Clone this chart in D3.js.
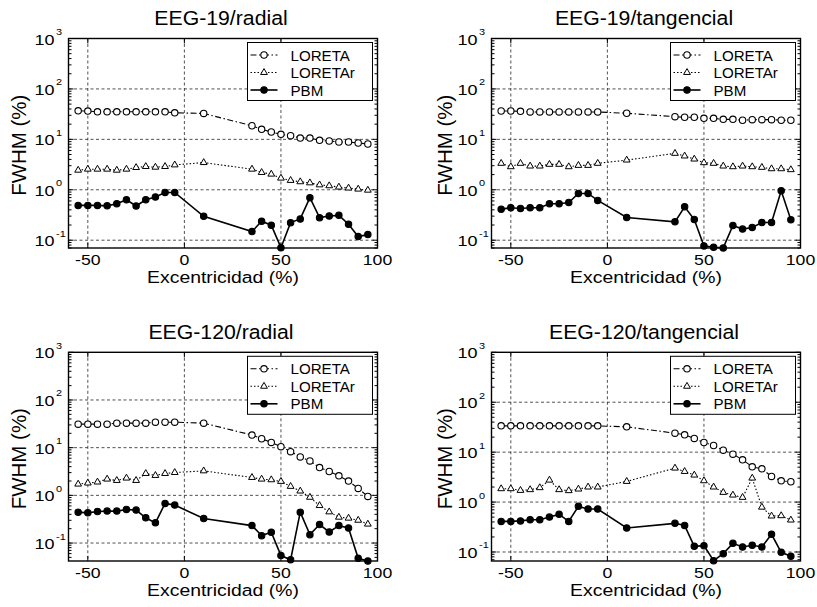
<!DOCTYPE html>
<html><head><meta charset="utf-8">
<script src="https://cdn.jsdelivr.net/npm/d3@7"></script>
<style>
body{margin:0;background:#fff}
svg{display:block}
text{font-family:"Liberation Sans",Arial,Helvetica,sans-serif;fill:#000}
</style>
</head><body>
<svg id="fig" width="817" height="607"></svg>
<script>
// Source eccentricities (%) where FWHM was evaluated
const excentricidad = [-55,-50,-45,-40,-35,-30,-25,-20,-15,-10,-5,10,35,40,45,50,55,60,65,70,75,80,85,90,95];
const xTicks = [-50, 0, 50, 100];
const yTickExps = [-1, 0, 1, 2, 3];
const seriesNames = ["LORETA", "LORETAr", "PBM"];
const panelTitles = ["EEG-19/radial", "EEG-19/tangencial", "EEG-120/radial", "EEG-120/tangencial"];
const yFloor = [0.07, 0.07, 0.042, 0.066];

// EEG-19, radial dipoles
const loreta19rad  = [36.8,36.3,35.2,35.2,35.2,35.2,35.2,35.2,35.2,35.2,33.6,32.6,18.6,15.8,14.0,12.6,11.8,10.6,10.6,9.55,9.27,8.86,8.86,8.47,8.09];
const loretaR19rad = [2.44,2.56,2.56,2.56,2.44,2.56,2.76,2.89,2.80,2.89,3.11,3.46,2.56,2.20,2.04,1.70,1.53,1.44,1.37,1.25,1.20,1.13,1.08,1.03,0.98];
const pbm19rad     = [0.49,0.49,0.49,0.48,0.53,0.635,0.476,0.635,0.72,0.885,0.885,0.298,0.148,0.237,0.198,0.071,0.223,0.264,0.695,0.28,0.302,0.311,0.207,0.118,0.129];

// EEG-19, tangential dipoles
const loreta19tan  = [36.5,36.5,36.0,34.9,34.9,34.9,34.9,34.9,34.9,34.9,34.9,32.9,28.2,27.4,27.4,26.1,26.1,24.9,24.9,23.9,24.6,24.6,24.6,23.9,23.9];
const loretaR19tan = [3.34,2.86,3.34,2.95,2.95,3.19,3.19,2.86,3.04,3.04,3.34,3.88,5.27,4.67,4.06,3.44,3.34,2.95,2.86,2.95,2.86,2.78,2.61,2.61,2.50];
const pbm19tan     = [0.413,0.439,0.426,0.439,0.439,0.527,0.527,0.56,0.846,0.846,0.614,0.282,0.231,0.459,0.257,0.077,0.0726,0.0704,0.196,0.166,0.179,0.224,0.224,0.955,0.253];

// EEG-120, radial dipoles
const loreta120rad  = [31.1,31.1,31.1,31.1,32.7,32.7,32.7,32.7,34.2,34.2,34.2,32.7,18.4,15.4,12.9,10.5,8.26,6.39,5.27,3.83,3.16,2.57,1.99,1.40,0.95];
const loretaR120rad = [1.72,1.81,1.90,2.19,2.05,2.30,2.05,2.87,2.61,2.87,3.01,3.26,2.37,2.19,2.12,1.96,1.54,1.23,0.91,0.61,0.45,0.348,0.332,0.30,0.249];
const pbm120rad     = [0.444,0.43,0.459,0.467,0.467,0.506,0.49,0.339,0.265,0.678,0.624,0.327,0.232,0.143,0.168,0.0547,0.0444,0.444,0.15,0.244,0.171,0.232,0.207,0.048,0.042];

// EEG-120, tangential dipoles
const loreta120tan  = [33.6,33.6,33.6,33.6,33.6,33.6,33.6,33.6,33.6,33.6,33.6,32.1,24.0,22.2,18.8,15.6,13.6,10.96,9.12,7.03,5.09,4.64,3.26,2.67,2.55];
const loretaR120tan = [1.85,1.85,1.71,1.77,1.94,2.75,1.77,1.69,1.82,2.0,2.0,2.59,4.79,4.10,3.47,2.67,2.0,1.56,1.38,1.24,3.02,0.79,0.525,0.533,0.436];
const pbm120tan     = [0.41,0.41,0.42,0.443,0.443,0.50,0.567,0.41,0.82,0.724,0.724,0.302,0.375,0.341,0.13,0.134,0.067,0.0926,0.149,0.126,0.136,0.126,0.226,0.0985,0.082];

const panelSeries = [
  [loreta19rad, loretaR19rad, pbm19rad],
  [loreta19tan, loretaR19tan, pbm19tan],
  [loreta120rad, loretaR120rad, pbm120rad],
  [loreta120tan, loretaR120tan, pbm120tan]
];

// Plot-area frames for the 2x2 grid (yLab: offset of the y-axis title)
const frames = [
  {x0: 68.5,  x1: 377.5, y0: 38.5,  y1: 248, yLab: -43},
  {x0: 491.5, x1: 800.5, y0: 38.5,  y1: 248, yLab: -39.5},
  {x0: 68.5,  x1: 377.5, y0: 352.3, y1: 561, yLab: -43},
  {x0: 491.5, x1: 800.5, y0: 352.3, y1: 561, yLab: -39.5}
];

// Line / marker styles per method
const styles = [
  {dash: "6,2.5,1.5,2.5", width: 1.1, marker: "circle",   fill: "#fff"},
  {dash: "1.5,2",         width: 1.1, marker: "triangle", fill: "#fff"},
  {dash: null,            width: 1.6, marker: "circle",   fill: "#000"}
];

const svg = d3.select("#fig");

// Text with a slight horizontal stretch (wide Helvetica-like lettering)
function label(g, x, y, str, size, anchor, sx, rot) {
  return g.append("text")
    .attr("transform", `translate(${x},${y})` + (rot ? ` rotate(${rot})` : "") + ` scale(${sx},1)`)
    .attr("text-anchor", anchor).attr("font-size", size).text(str);
}

function drawMarker(g, kind, fill, cx, cy) {
  if (kind === "circle") {
    g.append("circle").attr("cx", cx).attr("cy", cy).attr("r", 3.2)
      .attr("fill", fill).attr("stroke", "#000").attr("stroke-width", 1.1);
  } else {
    g.append("path").attr("d", d3.symbol(d3.symbolTriangle, 20)())
      .attr("transform", `translate(${cx},${cy})`)
      .attr("fill", fill).attr("stroke", "#000").attr("stroke-width", 1);
  }
}

frames.forEach((f, pi) => {
  const g = svg.append("g");
  const x = d3.scaleLinear().domain([-60, 100]).range([f.x0, f.x1]);
  const y = d3.scaleLog().domain([yFloor[pi], 1000]).range([f.y1, f.y0]);

  // dashed grid
  const grid = g.append("g").attr("stroke", "#000").attr("stroke-width", 0.8)
    .attr("stroke-dasharray", "3,2.5").attr("opacity", 0.85);
  xTicks.filter(v => v < 100).forEach(v => {
    grid.append("line").attr("x1", x(v)).attr("x2", x(v)).attr("y1", f.y0).attr("y2", f.y1);
  });
  yTickExps.filter(e => e < 3).forEach(e => {
    grid.append("line").attr("x1", f.x0).attr("x2", f.x1).attr("y1", y(10 ** e)).attr("y2", y(10 ** e));
  });

  // axis frame
  g.append("rect").attr("x", f.x0).attr("y", f.y0)
    .attr("width", f.x1 - f.x0).attr("height", f.y1 - f.y0)
    .attr("fill", "none").attr("stroke", "#000").attr("stroke-width", 1.4);

  // inward ticks
  const tk = g.append("g").attr("stroke", "#000").attr("stroke-width", 1);
  xTicks.filter(v => v < 100).forEach(v => {
    tk.append("line").attr("x1", x(v)).attr("x2", x(v)).attr("y1", f.y1).attr("y2", f.y1 - 5);
    tk.append("line").attr("x1", x(v)).attr("x2", x(v)).attr("y1", f.y0).attr("y2", f.y0 + 5);
  });
  yTickExps.forEach(e => {
    const yy = y(10 ** e);
    tk.append("line").attr("x1", f.x0).attr("x2", f.x0 + 5).attr("y1", yy).attr("y2", yy);
    tk.append("line").attr("x1", f.x1).attr("x2", f.x1 - 5).attr("y1", yy).attr("y2", yy);
  });
  // minor log ticks
  y.ticks().filter(v => {
    const m = v / 10 ** Math.floor(Math.log10(v) + 1e-9);
    return Math.abs(m - 1) > 1e-6;
  }).forEach(v => {
    const yy = y(v);
    tk.append("line").attr("x1", f.x0).attr("x2", f.x0 + 3).attr("y1", yy).attr("y2", yy);
    tk.append("line").attr("x1", f.x1).attr("x2", f.x1 - 3).attr("y1", yy).attr("y2", yy);
  });

  // tick labels
  xTicks.forEach(v => label(g, x(v), f.y1 + 16.5, v, 14.5, "middle", 1.22));
  yTickExps.forEach(e => {
    const yy = y(10 ** e);
    label(g, f.x0 - 14, yy + 6, "10", 15, "end", 1.2);
    label(g, f.x0 - 12.5, yy - 3.5, e, 9.5, "start", 1.15);
  });

  // title and axis labels
  const cx = (f.x0 + f.x1) / 2;
  label(g, cx - 2, f.y0 - 13.5, panelTitles[pi], 19.5, "middle", 1.09);
  label(g, cx, f.y1 + 35, "Excentricidad (%)", 17, "middle", 1.14);
  label(g, f.x0 + f.yLab, (f.y0 + f.y1) / 2 + 2, "FWHM (%)", 19.5, "middle", 1.05, -90);

  // series lines, then markers on top
  panelSeries[pi].forEach((vals, si) => {
    const st = styles[si];
    const pts = excentricidad.map((xv, i) => [x(xv), y(vals[i])]);
    g.append("path").attr("d", d3.line()(pts))
      .attr("fill", "none").attr("stroke", "#000").attr("stroke-width", st.width)
      .attr("stroke-dasharray", st.dash);
  });
  panelSeries[pi].forEach((vals, si) => {
    const st = styles[si];
    const mg = g.append("g");
    excentricidad.forEach((xv, i) => drawMarker(mg, st.marker, st.fill, x(xv), y(vals[i])));
  });

  // legend
  const lx = f.x1 - 130, ly = f.y0 + 4;
  const lg = g.append("g");
  lg.append("rect").attr("x", lx).attr("y", ly).attr("width", 125).attr("height", 58)
    .attr("fill", "#fff").attr("stroke", "#000").attr("stroke-width", 1);
  seriesNames.forEach((name, si) => {
    const st = styles[si];
    const ry = ly + 12.5 + si * 17.5;
    lg.append("line").attr("x1", lx + 3).attr("x2", lx + 30).attr("y1", ry).attr("y2", ry)
      .attr("stroke", "#000").attr("stroke-width", st.width).attr("stroke-dasharray", st.dash);
    drawMarker(lg, st.marker, st.fill, lx + 16.5, ry);
    label(lg, lx + 43, ry + 5.5, name, 14, "start", 1.08);
  });
});
</script>
</body></html>
